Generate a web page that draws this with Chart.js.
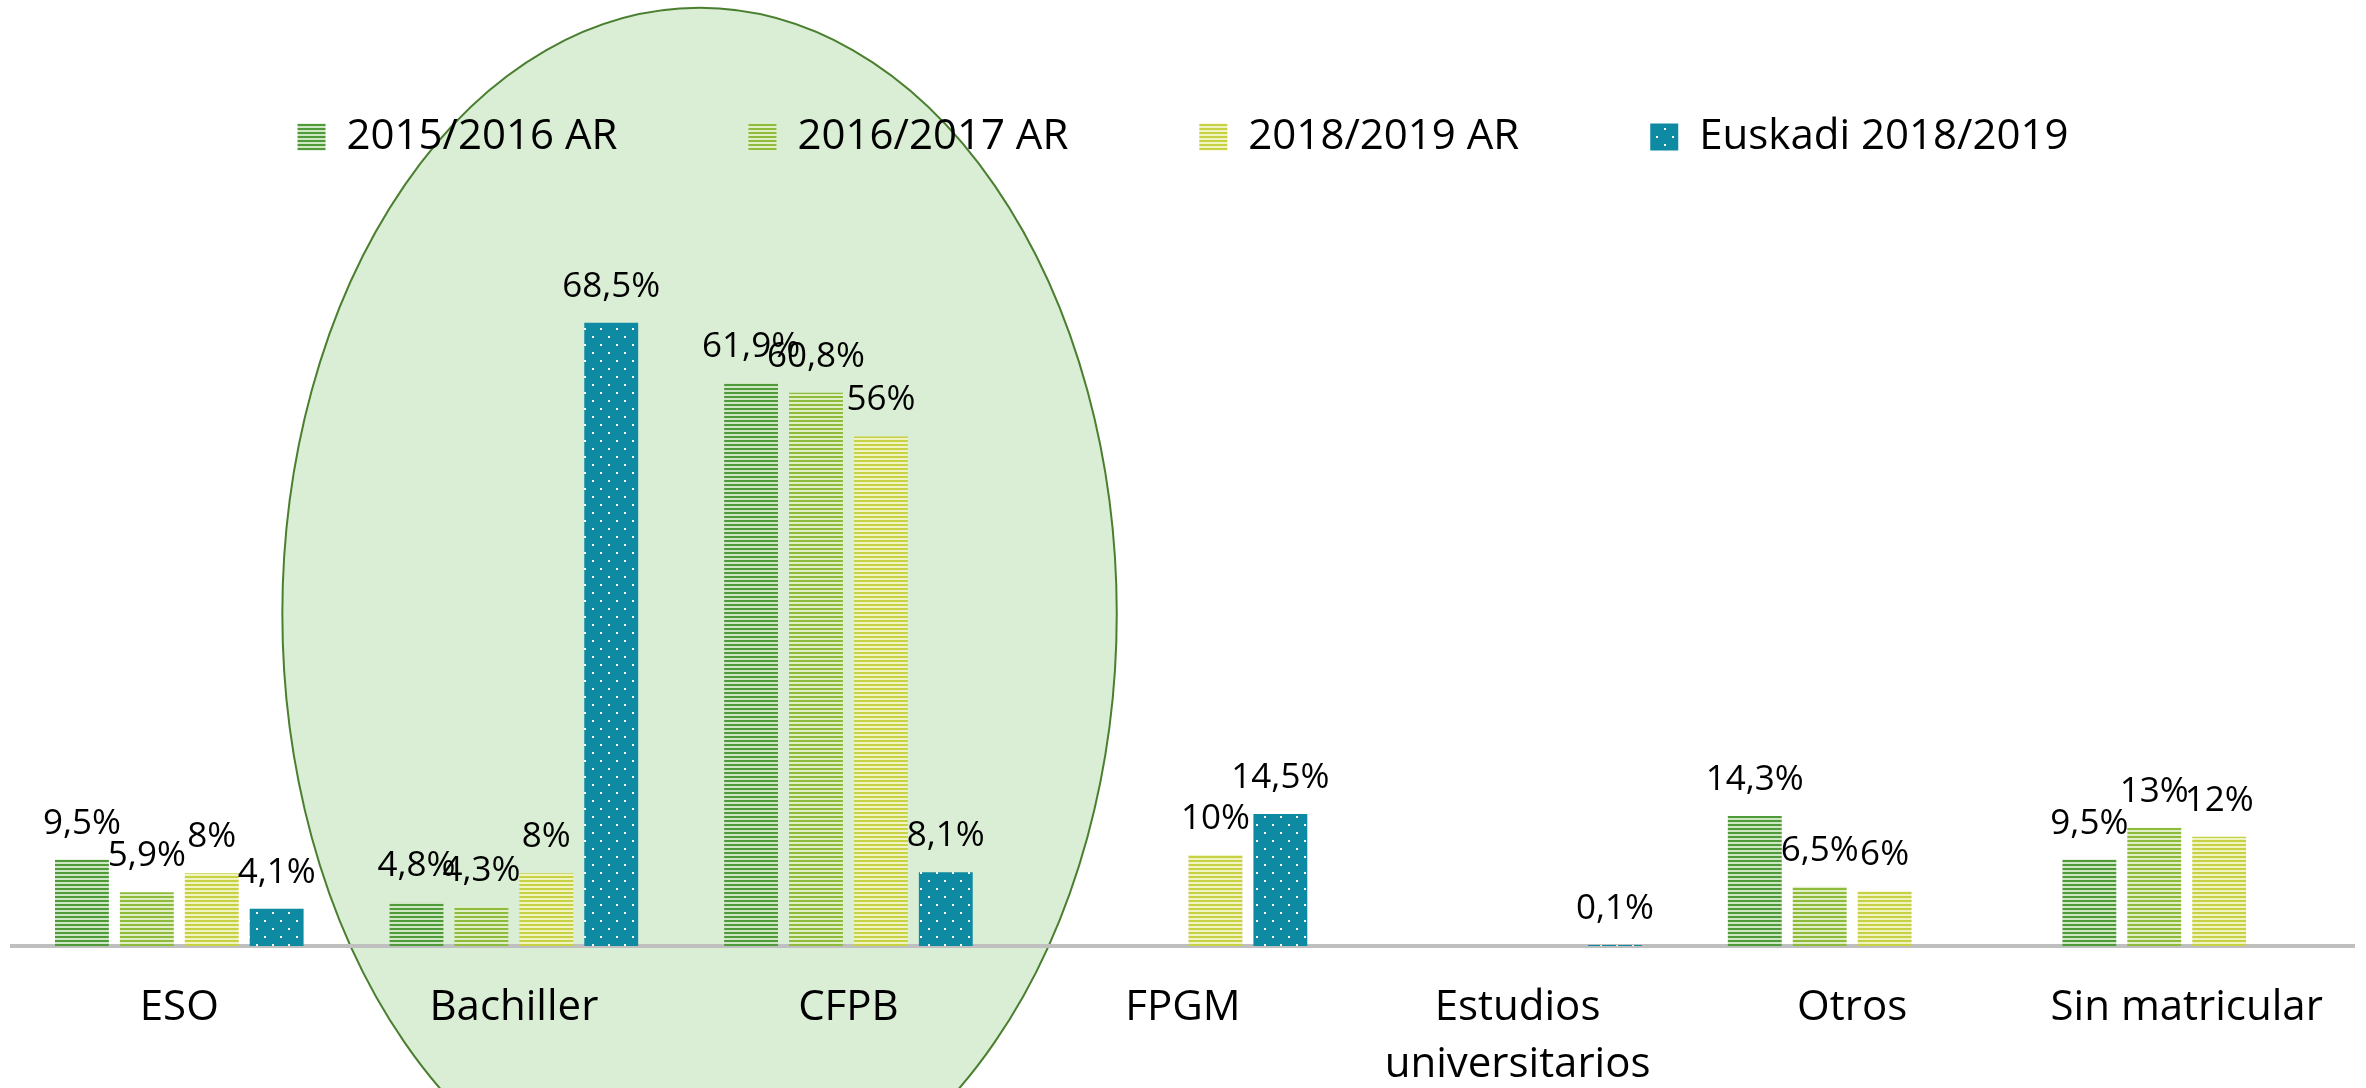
<!DOCTYPE html>
<html>
<head>
<meta charset="utf-8">
<script src="https://cdn.jsdelivr.net/npm/chart.js@4.4.0/dist/chart.umd.min.js"></script>
<style>
  html, body { margin: 0; padding: 0; background: #ffffff; }
  canvas { display: block; }
</style>
</head>
<body>
<canvas id="chart" width="2366" height="1088"></canvas>
<script>
const categories = ['ESO', 'Bachiller', 'CFPB', 'FPGM', ['Estudios', 'universitarios'], 'Otros', 'Sin matricular'];
const seriesNames = ['2015/2016 AR', '2016/2017 AR', '2018/2019 AR', 'Euskadi 2018/2019'];
const ar1516 = [9.5, 4.8, 61.9, null, null, 14.3, 9.5];
const ar1617 = [5.9, 4.3, 60.8, null, null, 6.5, 13];
const ar1819 = [8, 8, 56, 10, null, 6, 12];
const euskadi1819 = [4.1, 68.5, 8.1, 14.5, 0.1, null, null];

const FONT = "'Open Sans', sans-serif";

// horizontal stripe fill, like the excel pattern
function stripes(dark, light) {
  const c = document.createElement('canvas');
  c.width = 4; c.height = 4;
  const g = c.getContext('2d');
  g.fillStyle = light;
  g.fillRect(0, 0, 4, 4);
  g.fillStyle = dark;
  g.fillRect(0, 0, 4, 2);
  return g.createPattern(c, 'repeat');
}

// dotted fill for the Euskadi series
function dots(base) {
  const c = document.createElement('canvas');
  c.width = 16; c.height = 16;
  const g = c.getContext('2d');
  g.fillStyle = base;
  g.fillRect(0, 0, 16, 16);
  g.fillStyle = '#ffffff';
  g.fillRect(0, 0, 2, 2);
  g.fillRect(8, 8, 2, 2);
  return g.createPattern(c, 'repeat');
}

const fills = [
  stripes('#4f9b39', '#d0e7c5'),
  stripes('#8dbb3c', '#e2eec6'),
  stripes('#c6d243', '#eff4c2'),
  dots('#0f8aa3')
];

// green ellipse around Bachiller + CFPB, drawn under everything
const ellipse = {
  id: 'ellipse',
  beforeDraw(chart) {
    const { ctx, scales: { x, y } } = chart;
    ctx.save();
    ctx.fillStyle = '#ffffff';
    ctx.fillRect(0, 0, chart.width, chart.height);
    const step = x.getPixelForValue(1) - x.getPixelForValue(0);
    const cx = x.getPixelForValue(1.555);
    const cy = y.getPixelForValue(36.5);
    const rx = step * 1.247;
    const ry = y.getPixelForValue(0) - y.getPixelForValue(66.6);
    ctx.beginPath();
    ctx.ellipse(cx, cy, rx, ry, 0, 0, Math.PI * 2);
    ctx.fillStyle = '#daeed5';
    ctx.fill();
    ctx.lineWidth = 2;
    ctx.strokeStyle = '#4a7f2f';
    ctx.stroke();
    ctx.restore();
  }
};

const valueLabels = {
  id: 'valueLabels',
  afterDatasetsDraw(chart) {
    const { ctx } = chart;
    ctx.save();
    ctx.font = '35px ' + FONT;
    ctx.fillStyle = '#000000';
    ctx.textAlign = 'center';
    ctx.textBaseline = 'middle';
    chart.data.datasets.forEach((ds, i) => {
      chart.getDatasetMeta(i).data.forEach((bar, j) => {
        const v = ds.data[j];
        if (v === null || v === undefined) return;
        ctx.fillText(String(v).replace('.', ',') + '%', bar.x, bar.y - 36);
      });
    });
    ctx.restore();
  }
};

const spacer = {
  text: '',
  fillStyle: 'rgba(0,0,0,0)',
  strokeStyle: 'rgba(0,0,0,0)',
  lineWidth: 0,
  hidden: false,
  datasetIndex: -1
};

const seriesData = [ar1516, ar1617, ar1819, euskadi1819];

new Chart(document.getElementById('chart'), {
  type: 'bar',
  data: {
    labels: categories,
    datasets: seriesNames.map((name, i) => ({
      label: name,
      data: seriesData[i],
      backgroundColor: fills[i],
      borderWidth: 0,
      categoryPercentage: 0.776,
      barPercentage: 0.83
    }))
  },
  options: {
    responsive: false,
    devicePixelRatio: 1,
    animation: false,
    layout: { padding: { top: 75, left: 12, right: 12, bottom: 0 } },
    scales: {
      x: {
        grid: { display: false, drawTicks: false, tickLength: 0 },
        border: { display: true, color: '#bfbfbf', width: 4 },
        ticks: {
          color: '#000000',
          font: { family: FONT, size: 42, lineHeight: 1.35 },
          padding: 34,
          maxRotation: 0,
          autoSkip: false
        },
        afterFit(scale) { scale.height = 142; }
      },
      y: { display: false, min: 0, max: 85.5 }
    },
    plugins: {
      tooltip: { enabled: false },
      legend: {
        position: 'top',
        labels: {
          boxWidth: 28,
          boxHeight: 27,
          padding: 41,
          color: '#000000',
          font: { family: FONT, size: 42 },
          generateLabels(chart) {
            const items = Chart.defaults.plugins.legend.labels.generateLabels(chart);
            const out = [];
            items.forEach((it, i) => {
              if (i > 0) out.push(Object.assign({}, spacer));
              out.push(it);
            });
            return out;
          }
        }
      }
    }
  },
  plugins: [ellipse, valueLabels]
});
</script>
</body>
</html>
